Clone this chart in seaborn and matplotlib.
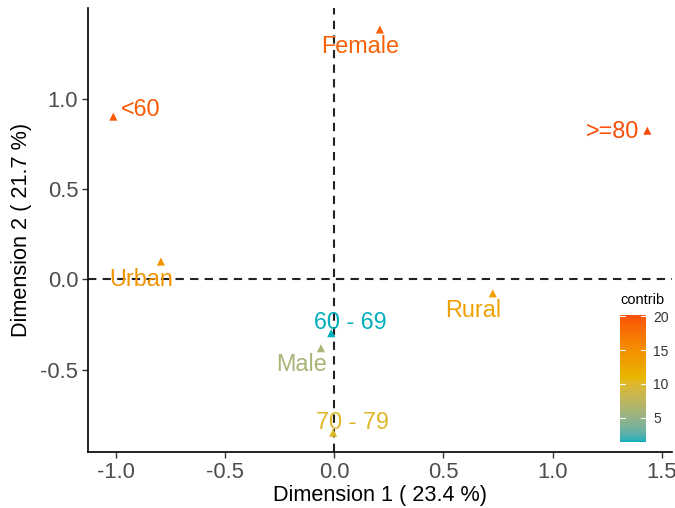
import numpy as np
import pandas as pd
import matplotlib
matplotlib.use("Agg")
import matplotlib.pyplot as plt
import matplotlib.colors as mcolors
import matplotlib.colorbar as mcolorbar
import seaborn as sns

# ---- data ----
categories = ["Female", "<60", ">=80", "Urban", "Rural", "60 - 69", "Male", "70 - 79"]
dim1 = [0.209, -1.012, 1.434, -0.794, 0.726, -0.014, -0.061, -0.005]
dim2 = [1.384, 0.901, 0.823, 0.098, -0.078, -0.299, -0.382, -0.850]
contrib = [19.0, 19.4, 20.2, 14.5, 13.2, 1.4, 6.0, 10.0]
x_ticks = [-1.0, -0.5, 0.0, 0.5, 1.0, 1.5]
y_ticks = [-0.5, 0.0, 0.5, 1.0]
cbar_ticks = [5, 10, 15, 20]

df = pd.DataFrame({"label": categories, "x": dim1, "y": dim2, "contrib": contrib})

# label offsets in pixels (label centre relative to point)
offsets = {"Female": (-20, -17.5), "<60": (27, 7), ">=80": (-35, -1),
           "Urban": (-20, -17.5), "Rural": (-19.5, -17.5), "60 - 69": (19.5, 11),
           "Male": (-19, -16), "70 - 79": (19, 10.2)}

# ---- colormap: interpolate in Lab like ggplot ----
def srgb_to_lab(c):
    c = np.asarray(c, float)
    lin = np.where(c <= 0.04045, c / 12.92, ((c + 0.055) / 1.055) ** 2.4)
    M = np.array([[0.4124, 0.3576, 0.1805], [0.2126, 0.7152, 0.0722], [0.0193, 0.1192, 0.9505]])
    xyz = M @ lin
    wp = np.array([0.95047, 1.0, 1.08883])
    t = xyz / wp
    f = np.where(t > (6/29) ** 3, np.cbrt(t), t / (3 * (6/29) ** 2) + 4/29)
    return np.array([116 * f[1] - 16, 500 * (f[0] - f[1]), 200 * (f[1] - f[2])])

def lab_to_srgb(lab):
    L, a, b = lab
    fy = (L + 16) / 116
    fx = fy + a / 500
    fz = fy - b / 200
    def finv(t):
        return np.where(t > 6/29, t ** 3, 3 * (6/29) ** 2 * (t - 4/29))
    wp = np.array([0.95047, 1.0, 1.08883])
    xyz = wp * np.array([finv(fx), finv(fy), finv(fz)])
    Minv = np.array([[3.2406, -1.5372, -0.4986], [-0.9689, 1.8758, 0.0415], [0.0557, -0.2040, 1.0570]])
    lin = Minv @ xyz
    lin = np.clip(lin, 0, 1)
    c = np.where(lin <= 0.0031308, 12.92 * lin, 1.055 * lin ** (1/2.4) - 0.055)
    return np.clip(c, 0, 1)

anchors = [mcolors.to_rgb(h) for h in ["#00AFBB", "#E7B800", "#FC4E07"]]
labs = [srgb_to_lab(c) for c in anchors]
cols = []
for t in np.linspace(0, 1, 256):
    if t <= 0.5:
        u = t / 0.5
        lab = labs[0] * (1 - u) + labs[1] * u
    else:
        u = (t - 0.5) / 0.5
        lab = labs[1] * (1 - u) + labs[2] * u
    cols.append(lab_to_srgb(lab))
cmap = mcolors.ListedColormap(cols)
vmin, vmax = min(contrib), max(contrib)
norm = mcolors.Normalize(vmin=vmin, vmax=vmax)

# ---- figure ----
sns.set_theme(style="white")
plt.rcParams["font.family"] = ["Liberation Sans", "DejaVu Sans"]

W, H = 675, 508
fig = plt.figure(figsize=(W / 100, H / 100), dpi=100)
ax = fig.add_axes([88 / W, (H - 452) / H, (672 - 88) / W, (452 - 8) / H])

ax.axhline(0, color="#222222", linestyle=(0, (4, 3)), linewidth=1.5, zorder=1)
ax.axvline(0, color="#222222", linestyle=(0, (4, 3)), linewidth=1.5, zorder=1)

sns.scatterplot(data=df, x="x", y="y", hue="contrib", palette=cmap, hue_norm=norm,
                marker="^", s=34, linewidth=0, legend=False, ax=ax, zorder=3)

for lab, x, y, c in zip(categories, dim1, dim2, contrib):
    dx, dy = offsets[lab]
    ax.annotate(lab, (x, y), xytext=(dx, dy), textcoords="offset pixels",
                ha="center", va="center", fontsize=16.8, color=cmap(norm(c)), zorder=4)

ax.set_xlim(-1.128, 1.547)
ax.set_ylim(-0.957, 1.503)
ax.set_xticks(x_ticks)
ax.set_yticks(y_ticks)
ax.set_xticklabels([f"{v:.1f}" for v in x_ticks])
ax.set_yticklabels([f"{v:.1f}" for v in y_ticks])
ax.tick_params(axis="both", labelsize=15.8, labelcolor="#4D4D4D", color="#333333",
               length=4, width=1, direction="out", bottom=True, left=True, pad=3)
ax.set_xlabel("Dimension 1 ( 23.4 %)", fontsize=15.6, color="black", labelpad=2)
ax.set_ylabel("Dimension 2 ( 21.7 %)", fontsize=15.6, color="black", labelpad=6)
for side in ["top", "right"]:
    ax.spines[side].set_visible(False)
for side in ["left", "bottom"]:
    ax.spines[side].set_color("black")
    ax.spines[side].set_linewidth(1.2)

# colorbar inside plot
cax = fig.add_axes([620 / W, (H - 442) / H, 26 / W, (442 - 315) / H])
cb = mcolorbar.ColorbarBase(cax, cmap=cmap, norm=norm, orientation="vertical")
cb.outline.set_visible(False)
cb.set_ticks(cbar_ticks)
cax.tick_params(labelsize=10, labelcolor="#333333", length=0, pad=5)
for t in cbar_ticks:
    cax.plot([0, 0.2], [t, t], color="white", lw=0.8, transform=cax.get_yaxis_transform())
    cax.plot([0.8, 1], [t, t], color="white", lw=0.8, transform=cax.get_yaxis_transform())
fig.text(620 / W, (H - 300) / H, "contrib", fontsize=10.5, color="black", ha="left", va="center")

fig.savefig("out.png", dpi=100)
